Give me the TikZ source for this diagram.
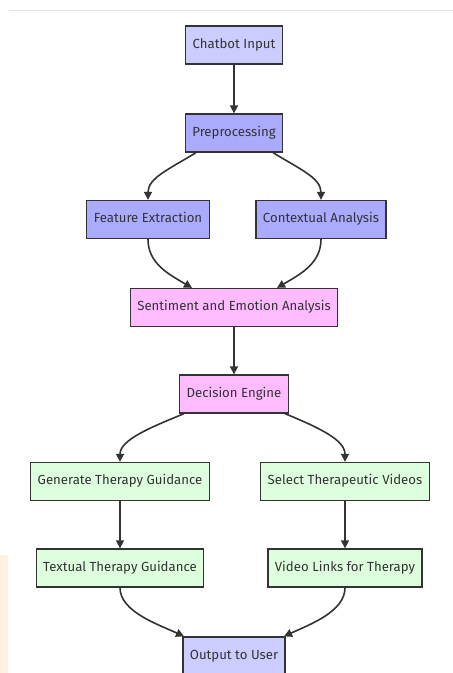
\documentclass[tikz,border=0pt]{standalone}
\usepackage{fontspec}
\setmainfont{Fira Sans}
\usetikzlibrary{arrows.meta}
\definecolor{inkgray}{HTML}{333333}
\definecolor{lavender}{HTML}{CCCCFF}
\definecolor{periwink}{HTML}{AAAAFF}
\definecolor{pinkbox}{HTML}{FFBBFF}
\definecolor{greenbox}{HTML}{DDFFDD}
\definecolor{peach}{HTML}{FFF0E0}
\tikzset{
    stage/.style={draw=inkgray, line width=1.3pt, text=inkgray, inner xsep=7pt,
        minimum height=38pt, text height=9.5pt, text depth=3pt,
        font=\fontsize{13.2}{15}\selectfont},
    edge/.style={->, draw=inkgray, line width=1.6pt}
}
\begin{document}
\begin{tikzpicture}[>={Triangle[length=8pt,width=8pt]}, x=1pt, y=-1pt]
    \clip (0,0) rectangle (453,673);
    \useasboundingbox (0,0) rectangle (453,673);
    \fill[white] (0,0) rectangle (453,673);
    \draw[gray!20, line width=1pt] (9,10)--(453,10);
    \fill[peach] (0,555) rectangle (8,673);

    \node[stage, fill=lavender] (chat) at (234,45) {Chatbot Input};
    \node[stage, fill=periwink] (pre) at (234,133) {Preprocessing};
    \node[stage, fill=periwink] (feat) at (148,219.5) {Feature Extraction};
    \node[stage, fill=periwink] (ctx) at (321,219.5) {Contextual Analysis};
    \node[stage, fill=pinkbox] (sent) at (234,307.5) {Sentiment and Emotion Analysis};
    \node[stage, fill=pinkbox] (dec) at (234,394) {Decision Engine};
    \node[stage, fill=greenbox] (gen) at (120,481.5) {Generate Therapy Guidance};
    \node[stage, fill=greenbox] (sel) at (345,481.5) {Select Therapeutic Videos};
    \node[stage, fill=greenbox] (txt) at (120,568) {Textual Therapy Guidance};
    \node[stage, fill=greenbox] (vid) at (345,568) {Video Links for Therapy};
    \node[stage, fill=lavender] (out) at (234,656) {Output to User};

    \draw[edge] (chat)--(pre);
    \draw[edge] (sent)--(dec);
    \draw[edge] (gen)--(txt);
    \draw[edge] (sel)--(vid);

    \draw[edge] ([xshift=-38pt]pre.south) .. controls +(-26,16) and +(0,-22) .. (feat.north);
    \draw[edge] ([xshift=39pt]pre.south) .. controls +(26,16) and +(0,-22) .. (ctx.north);
    \draw[edge] (feat.south) .. controls +(0,24) and +(-24,-14) .. ([xshift=-42pt]sent.north);
    \draw[edge] (ctx.south) .. controls +(0,24) and +(24,-14) .. ([xshift=43pt]sent.north);
    \draw[edge] ([xshift=-50pt]dec.south) .. controls +(-34,14) and +(0,-22) .. (gen.north);
    \draw[edge] ([xshift=51pt]dec.south) .. controls +(34,14) and +(0,-22) .. (sel.north);
    \draw[edge] (txt.south) .. controls +(0,24) and +(-26,-12) .. ([xshift=-50pt]out.north);
    \draw[edge] (vid.south) .. controls +(0,24) and +(26,-12) .. ([xshift=50pt]out.north);
\end{tikzpicture}
\end{document}
